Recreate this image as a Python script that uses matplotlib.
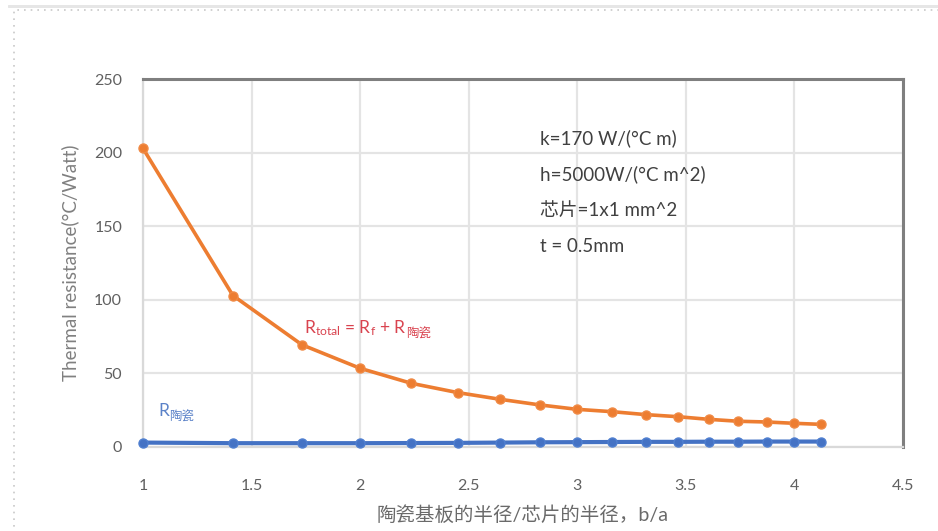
import matplotlib
matplotlib.use("Agg")
import matplotlib.pyplot as plt
from matplotlib.patches import Rectangle

plt.rcParams['font.family'] = ['Lato', 'Noto Sans CJK SC', 'DejaVu Sans']
plt.rcParams['mathtext.fontset'] = 'custom'
plt.rcParams['mathtext.rm'] = 'Lato'

# data
b_over_a = [1.0, 1.414, 1.732, 2.0, 2.236, 2.449, 2.646, 2.828, 3.0,
            3.162, 3.317, 3.464, 3.606, 3.742, 3.873, 4.0, 4.123]
r_total = [203, 103, 69.5, 53.5, 43.3, 37, 32.4, 28.6, 25.6,
           24, 22, 20.6, 18.8, 17.5, 17, 16.1, 15.4]
r_ceramic = [3, 2.6, 2.6, 2.6, 2.7, 2.8, 3.0, 3.2, 3.3,
             3.4, 3.5, 3.5, 3.6, 3.6, 3.7, 3.7, 3.7]
x_ticks = [1, 1.5, 2, 2.5, 3, 3.5, 4, 4.5]
x_tick_labels = ['1', '1.5', '2', '2.5', '3', '3.5', '4', '4.5']
y_ticks = [0, 50, 100, 150, 200, 250]
params = ['k=170 W/(°C m)', 'h=5000W/(°C m^2)', '芯片=1x1 mm^2', 't = 0.5mm']

fig = plt.figure(figsize=(9.38, 5.31), dpi=100)
fig.patch.set_facecolor('white')

# outer dotted frame
fig.patches.append(Rectangle((14/938, -0.02), 1.1, (531-10)/531 + 0.02,
                             transform=fig.transFigure, fill=False,
                             edgecolor='#c8c8c8', linestyle=(0, (1, 3)), linewidth=1.2))
fig.patches.append(Rectangle((8/938, (531-6)/531), 1.0, 0.0,
                             transform=fig.transFigure, fill=False,
                             edgecolor='#e6e6e6', linewidth=2))

ax = fig.add_axes([143/938, 84/531, (903-143)/938, (447-79.3)/531])
ax.set_xlim(1, 4.5)
ax.set_ylim(0, 250)
ax.set_xticks(x_ticks)
ax.set_xticklabels(x_tick_labels)
ax.set_yticks(y_ticks)
ax.grid(True, color='#e4e4e4', linewidth=1.6)
ax.set_axisbelow(True)
for s in ['top', 'right']:
    ax.spines[s].set_color('#7f7f7f')
    ax.spines[s].set_linewidth(2.2)
for s in ['left', 'bottom']:
    ax.spines[s].set_color('#d9d9d9')
    ax.spines[s].set_linewidth(1.6)
ax.tick_params(length=0, labelsize=11.5, labelcolor='#606060')
ax.tick_params(axis='x', pad=23)
ax.tick_params(axis='y', pad=15)

ax.plot(b_over_a, r_total, color='#ED7D31', linewidth=2.6, marker='o',
        markersize=6.5, markerfacecolor='#ED7D31', markeredgecolor='#F08A45', clip_on=False, zorder=3)
ax.plot(b_over_a, r_ceramic, color='#4472C4', linewidth=3, marker='o',
        markersize=6.5, markerfacecolor='#4472C4', markeredgecolor='#4f7fd0', clip_on=False, zorder=4)

ax.set_ylabel('Thermal resistance(°C/Watt)', fontsize=13.5, color='#808080', labelpad=11)
ax.set_xlabel('陶瓷基板的半径/芯片的半径，b/a', fontsize=14, color='#6a6a6a', labelpad=9)

# parameter text
for i, t in enumerate(params):
    ax.text(2.83, 210 - i * 24.5, t, fontsize=13.5, color='#404040', va='center', ha='left')

# R_total label
fig.canvas.draw()
renderer = fig.canvas.get_renderer()
red = '#D9434F'
t1 = ax.text(1.74, 81, r'$\mathregular{R_{total}}$ = $\mathregular{R_{f}}$ + R', fontsize=12.5,
             color=red, va='center', ha='left')
bb = t1.get_window_extent(renderer)
x_end = ax.transData.inverted().transform((bb.x1, bb.y0))[0]
ax.text(x_end, 81, '陶瓷', fontsize=9, color=red, va='top', ha='left')

blue = '#5B82C8'
t2 = ax.text(1.07, 24.5, 'R', fontsize=12.5, color=blue, va='center', ha='left')
bb2 = t2.get_window_extent(renderer)
x_end2 = ax.transData.inverted().transform((bb2.x1, bb2.y0))[0]
ax.text(x_end2, 24.5, '陶瓷', fontsize=9, color=blue, va='top', ha='left')

fig.savefig('out.png', dpi=100, facecolor='white')
